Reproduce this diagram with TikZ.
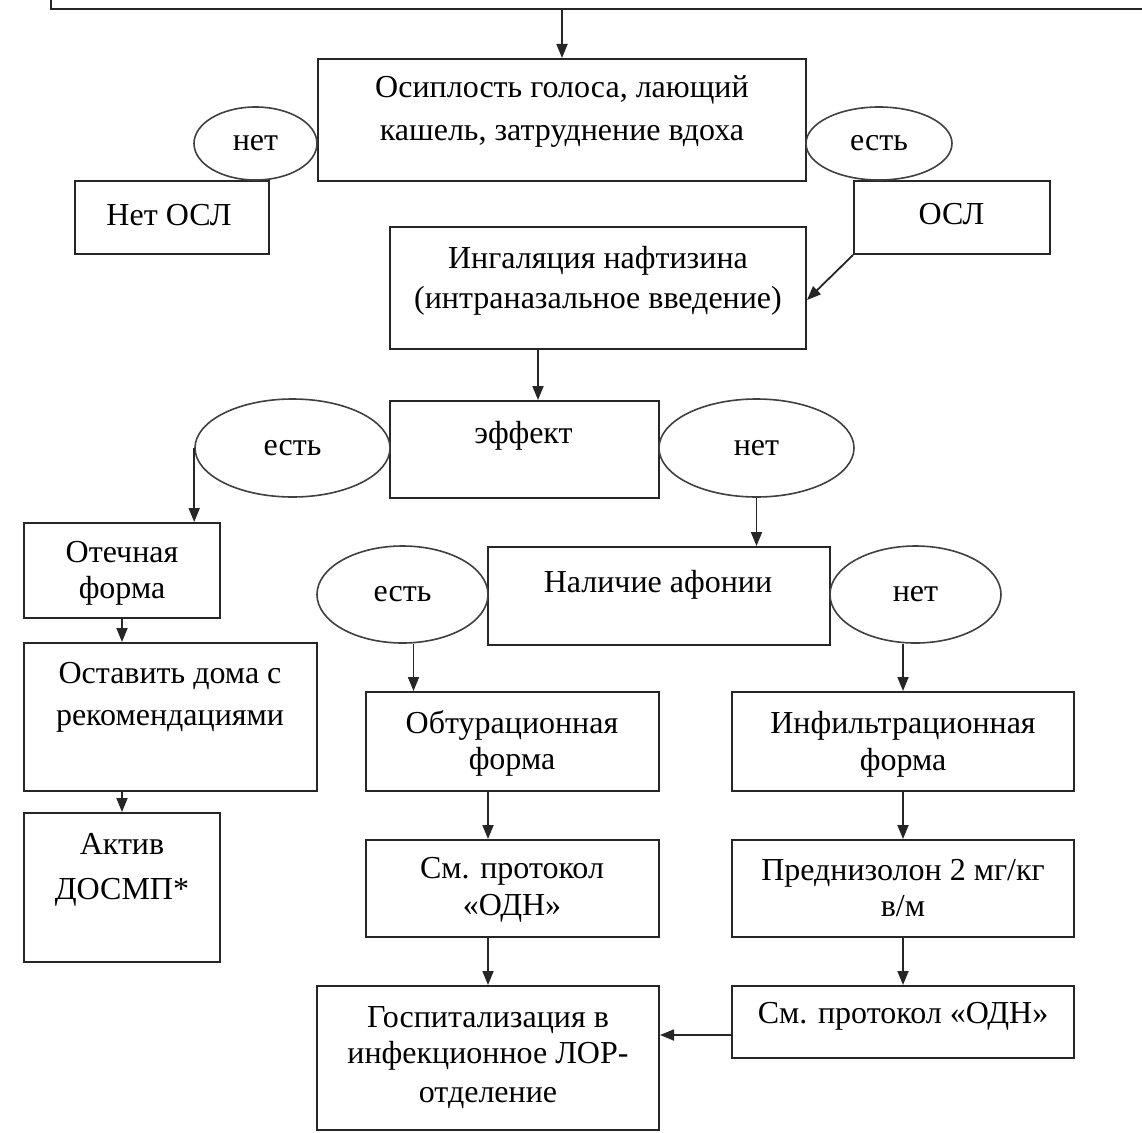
\documentclass[tikz,border=0pt]{standalone}
\usepackage{fontspec}
\setmainfont{Liberation Serif}
\usetikzlibrary{arrows.meta,shapes.geometric,calc}
\newcommand\fs{\fontsize{32}{36}\selectfont}
\newcommand\ml[1]{\begin{tabular}[t]{@{}c@{}}#1\end{tabular}}
\tikzset{
  box/.style={draw=black!85, line width=2pt, inner sep=0pt, rectangle},
  oval/.style={draw=black!75, line width=1.6pt, ellipse, inner sep=0pt, font=\fs},
  txt/.style={inner sep=0pt, anchor=base, font=\fs},
  arr/.style={draw=black!85, line width=1.8pt, -{Triangle[length=14pt,width=11pt]}}
}
\newcommand\mybox[5]{\node[box, minimum width={#4-#2}, minimum height={#5-#3}] (#1) at ({(#2+#4)/2},{(#3+#5)/2}) {};}
\begin{document}
\begin{tikzpicture}[x=1pt,y=-1pt]
\useasboundingbox (0,0) rectangle (1142,1132);
\fill[white] (0,0) rectangle (1142,1132);
% top (cut) box
\node[box, anchor=south west, minimum width=1200, minimum height=80] (top) at (49.5,10) {};
% boxes
\mybox{b1}{318}{59}{806}{181}
\mybox{nosl}{75}{181}{269}{254}
\mybox{osl}{854}{181}{1050}{254}
\mybox{ing}{390}{227}{806}{349}
\mybox{eff}{390}{401}{659}{498}
\mybox{otech}{24}{523}{220}{618}
\mybox{ost}{24}{643}{317}{791}
\mybox{akt}{24}{813}{220}{962}
\mybox{nal}{488}{547}{830}{645}
\mybox{obt}{366}{692}{659}{791}
\mybox{smpa}{366}{840}{659}{937}
\mybox{gosp}{317}{986}{659}{1130}
\mybox{inf}{732}{692}{1074}{791}
\mybox{pred}{732}{840}{1074}{937}
\mybox{smpb}{732}{986}{1074}{1058}
% ellipses
\node[oval, minimum width=123, minimum height=73] (e1) at (255.5,143.5) {нет};
\node[oval, minimum width=146, minimum height=73] (e2) at (879,143.5) {есть};
\node[oval, minimum width=195, minimum height=98] (e3) at (292.5,448) {есть};
\node[oval, minimum width=195, minimum height=98] (e4) at (756.5,448) {нет};
\node[oval, minimum width=171, minimum height=97] (e5) at (402.5,594.5) {есть};
\node[oval, minimum width=171, minimum height=97] (e6) at (915.5,594.5) {нет};
% texts
\node[txt] (b1t) at (562,97) {\ml{Осиплость голоса, лающий\\[7pt] кашель, затруднение вдоха}};
\node[txt] (noslt) at (169,225) {Нет ОСЛ};
\node[txt] (oslt) at (951.5,224) {ОСЛ};
\node[txt] (ingt) at (598,268) {\ml{Ингаляция нафтизина\\[4pt] (интраназальное введение)}};
\node[txt] (efft) at (523.5,443) {эффект};
\node[txt] (otecht) at (122,562) {\ml{Отечная\\ форма}};
\node[txt] (ostt) at (170,683) {\ml{Оставить дома с\\[6pt] рекомендациями}};
\node[txt] (aktt) at (122,854) {\ml{Актив\\[9pt] ДОСМП*}};
\node[txt] (nalt) at (658,592) {Наличие афонии};
\node[txt] (obtt) at (512,733) {\ml{Обтурационная\\ форма}};
\node[txt] (smpat) at (512,878) {\ml{См. протокол\\[1pt] «ОДН»}};
\node[txt] (gospt) at (488,1027) {\ml{Госпитализация в\\ инфекционное ЛОР-\\[3pt] отделение}};
\node[txt] (inft) at (903,733) {\ml{Инфильтрационная\\[1pt] форма}};
\node[txt] (predt) at (903,880) {\ml{Преднизолон 2 мг/кг\\ в/м}};
\node[txt] (smpbt) at (903,1023) {См. протокол «ОДН»};
% connectors
\draw[arr] (b1.north |- top.south) -- (b1.north);
\draw[arr] (osl.south west) -- ([yshift=-12pt]ing.east);
\draw[arr] ([xshift=-60pt]ing.south) -- ([xshift=13.5pt]eff.north);
\draw[arr] (e3.west) -- (e3.west |- otech.north);
\draw[arr] (otech.south) -- (otech.south |- ost.north);
\draw[arr] (akt.north |- ost.south) -- (akt.north);
\draw[arr] (e4.south) -- (e4.south |- nal.north);
\path ([xshift=11pt]e5.south) coordinate (e5o);
\draw[arr] (e5o) -- (e5o |- obt.north);
\draw[arr] (gosp.north |- obt.south) -- (gosp.north |- smpa.north);
\draw[arr] (gosp.north |- smpa.south) -- (gosp.north);
\draw[arr] (inf.north |- e6.south) -- (inf.north);
\draw[arr] (inf.south) -- (pred.north);
\draw[arr] (pred.south) -- (smpb.north);
\path ([yshift=-13pt]smpb.west) coordinate (s2w);
\draw[arr] (s2w) -- (s2w -| gosp.east);
\end{tikzpicture}
\end{document}
